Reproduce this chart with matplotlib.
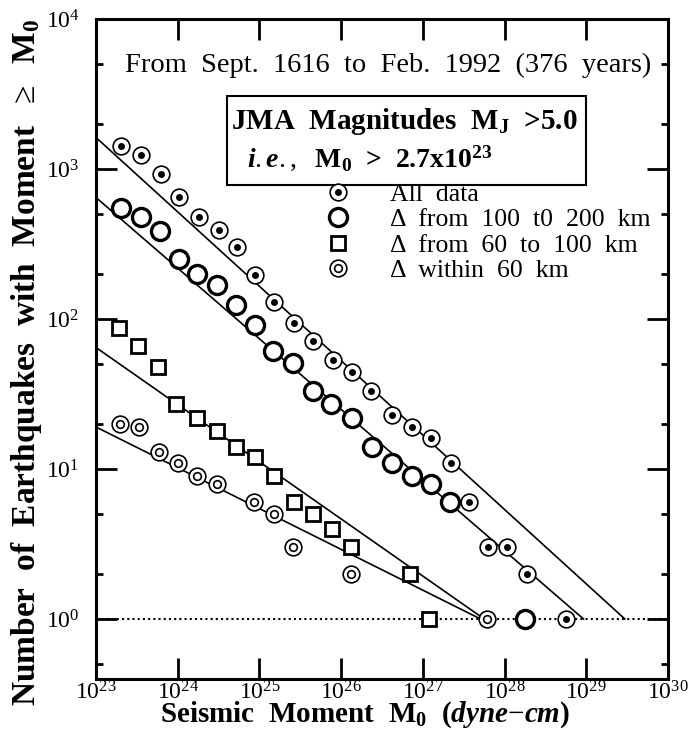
import matplotlib
matplotlib.use("Agg")
import matplotlib.pyplot as plt
import numpy as np
from matplotlib.ticker import LogLocator, NullLocator, LogFormatterMathtext, NullFormatter

plt.rcParams['font.family'] = ['Liberation Serif', 'DejaVu Serif']
plt.rcParams['mathtext.fontset'] = 'custom'
plt.rcParams['mathtext.rm'] = 'Liberation Serif'
plt.rcParams['mathtext.it'] = 'Liberation Serif:italic:bold'
plt.rcParams['mathtext.bf'] = 'Liberation Serif:bold'

# log10 of seismic moment (dyne-cm) and cumulative counts
logm_all = [23.30, 23.55, 23.79, 24.02, 24.26, 24.50, 24.72, 24.95, 25.18, 25.42, 25.65,
            25.90, 26.13, 26.37, 26.62, 26.87, 27.10, 27.34, 27.57, 27.80, 28.03, 28.27, 28.75]
n_all = [1420, 1240, 930, 650, 475, 395, 300, 196, 130, 94, 71,
         53, 44, 33, 23, 19, 16, 11, 6, 3, 3, 2, 1]

logm_100_200 = [23.30, 23.55, 23.78, 24.02, 24.24, 24.48, 24.71, 24.94, 25.17, 25.41,
                25.65, 25.88, 26.13, 26.38, 26.62, 26.87, 27.10, 27.33, 28.25]
n_100_200 = [547, 481, 386, 250, 200, 169, 124, 91, 61, 51,
             33, 27, 22, 14, 11, 9, 8, 6, 1]

logm_60_100 = [23.28, 23.52, 23.76, 23.98, 24.23, 24.48, 24.71, 24.95, 25.18, 25.42,
               25.65, 25.89, 26.12, 26.84, 27.08]
n_60_100 = [87, 66, 48, 27, 22, 18, 14, 12, 9, 6, 5, 4, 3, 2, 1]

logm_60 = [23.29, 23.53, 23.77, 24.00, 24.24, 24.48, 24.93, 25.18, 25.41, 26.12, 27.78]
n_60 = [20, 19, 13, 11, 9, 8, 6, 5, 3, 2, 1]

# fitted lines: log10 N = a - b * (log10 M0 - 23)
fit_a = [3.21, 2.81, 1.81, 1.28]
fit_b = [0.496, 0.471, 0.381, 0.272]

legend_labels = ['All  data', '\u0394  from  100  t0  200  km', '\u0394  from  60  to  100  km',
                 '\u0394  within  60  km']

fig = plt.figure(figsize=(6.88, 7.30), dpi=100)
ax = fig.add_axes([96/688, 51/730, 572/688, 660/730])
ax.set_xscale('log')
ax.set_yscale('log')
ax.set_xlim(1e23, 1e30)
ax.set_ylim(10**-0.4, 1e4)

# fit lines, stop at N = 1
for a, b in zip(fit_a, fit_b):
    lm = np.linspace(23, 23 + a / b, 50)
    ax.plot(10**lm, 10**(a - b * (lm - 23)), color='black', lw=1.2, zorder=2)

ax.axhline(1, color='black', lw=1.5, ls=(0, (1, 1.5)), zorder=1)

x = 10**np.array(logm_all)
h1a, = ax.plot(x, n_all, 'o', ms=12, mfc='white', mec='black', mew=1.2, zorder=3)
h1b, = ax.plot(x, n_all, 'o', ms=5, mfc='black', mec='black', mew=0, zorder=4)

h2, = ax.plot(10**np.array(logm_100_200), n_100_200, 'o', ms=13, mfc='white',
              mec='black', mew=2.4, zorder=3)
h3, = ax.plot(10**np.array(logm_60_100), n_60_100, 's', ms=10, mfc='white',
              mec='black', mew=2.0, zorder=3)

x = 10**np.array(logm_60)
h4a, = ax.plot(x, n_60, 'o', ms=12, mfc='white', mec='black', mew=1.2, zorder=3)
h4b, = ax.plot(x, n_60, 'o', ms=5.5, mfc='white', mec='black', mew=1.2, zorder=4)

ax.legend([(h1a, h1b), h2, h3, (h4a, h4b)], legend_labels,
          loc='upper left', bbox_to_anchor=(0.40, 0.752), frameon=False,
          fontsize=18.5, handlelength=1.0, handletextpad=1.55, labelspacing=0.1,
          borderpad=0, borderaxespad=0)

ax.text(0.511, 0.930, 'From  Sept.  1616  to  Feb.  1992  (376  years)',
        transform=ax.transAxes, ha='center', va='center', fontsize=20.5)

ax.text(0.236, 0.845, r'JMA  Magnitudes  M$_\mathbf{J}$  >5.0', transform=ax.transAxes,
        ha='left', va='center', fontsize=21, fontweight='bold')
ax.text(0.264, 0.789, r'$\mathit{i.e.,}$  M$_\mathbf{0}$  >  2.7x10$^\mathbf{23}$',
        transform=ax.transAxes, ha='left', va='center', fontsize=20, fontweight='bold')
ax.add_patch(plt.Rectangle((0.229, 0.748), 0.627, 0.135, transform=ax.transAxes,
                           fill=False, lw=1.5, color='black'))

ax.xaxis.set_major_locator(LogLocator(base=10, numticks=20))
ax.xaxis.set_minor_locator(NullLocator())
ax.xaxis.set_major_formatter(LogFormatterMathtext())
ax.yaxis.set_major_locator(LogLocator(base=10, numticks=20))
ax.yaxis.set_minor_locator(LogLocator(base=10, subs=(2, 5), numticks=20))
ax.yaxis.set_minor_formatter(NullFormatter())

ax.tick_params(which='both', direction='in', top=True, right=True, width=2, labelsize=17)
ax.tick_params(which='major', length=15)
ax.tick_params(which='minor', length=5)
ax.tick_params(axis='x', pad=2)
ax.tick_params(axis='y', pad=12)
for s in ax.spines.values():
    s.set_linewidth(2.2)

ax.set_xlabel(r'Seismic  Moment  M$_\mathbf{0}$  ($dyne{-}cm$)', fontsize=21,
              fontweight='bold', va='center')
ax.xaxis.set_label_coords(0.47, -0.054)
ax.set_ylabel(r'Number  of  Earthquakes  with  Moment  $\geq$  M$_\mathbf{0}$', fontsize=24,
              fontweight='bold', va='center')
ax.yaxis.set_label_coords(-0.121, 0.48)

fig.savefig('out.png', dpi=100)
